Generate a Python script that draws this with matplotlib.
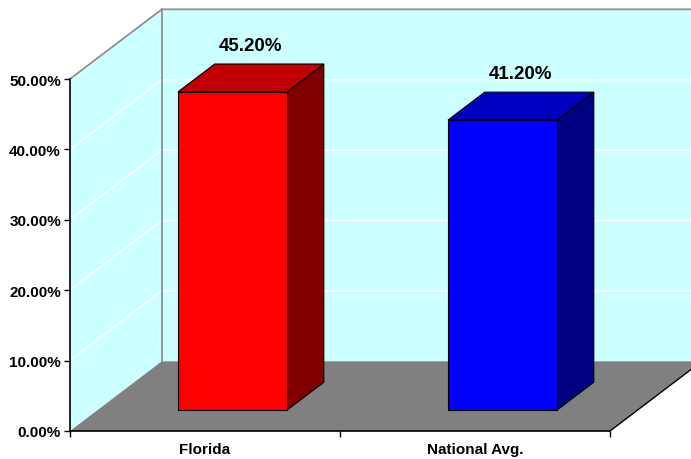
import matplotlib.pyplot as plt
from matplotlib.patches import Polygon

# datos del grafico
categorias = ["Florida", "National Avg."]
valores = [45.2, 41.2]
etiquetas = ["45.20%", "41.20%"]
ticks_y = [0, 10, 20, 30, 40, 50]
colores_frente = ["#FF0000", "#0000FF"]
colores_techo = ["#C00000", "#0000C0"]
colores_lado = ["#800000", "#000080"]

# desplazamiento de profundidad (en unidades de datos)
DX = 0.34
DY = 9.9
ANCHO = 0.404
D0, D1 = 0.3, 0.7

plt.rcParams["font.family"] = ["Liberation Sans", "DejaVu Sans"]

fig = plt.figure(figsize=(6.91, 4.6), dpi=100)
ax = fig.add_axes([70 / 691, 28 / 460, 540 / 691, 352 / 460])
ax.set_xlim(-0.5, 1.5)
ax.set_ylim(0, 50)
ax.patch.set_visible(False)


def p(x, y, d):
    # punto con profundidad d (0 = frente, 1 = fondo)
    return (x + d * DX, y + d * DY)


def poly(pts, color, edge="none", lw=0, z=1):
    ax.add_patch(Polygon(pts, closed=True, facecolor=color, edgecolor=edge,
                         linewidth=lw, clip_on=False, zorder=z))


x0, x1 = -0.5, 1.5
ymax = ticks_y[-1]
cyan = "#CCFFFF"
# pared lateral y pared del fondo
poly([p(x0, 0, 0), p(x0, ymax, 0), p(x0, ymax, 1), p(x0, 0, 1)], cyan)
poly([p(x0, 0, 1), p(x1, 0, 1), p(x1, ymax, 1), p(x0, ymax, 1)], cyan)
# piso
poly([p(x0, 0, 0), p(x1, 0, 0), p(x1, 0, 1), p(x0, 0, 1)], "#808080")

# lineas de grilla blancas
for v in ticks_y[1:-1]:
    xs, ys = zip(p(x0, v, 0), p(x0, v, 1), p(x1, v, 1))
    ax.plot(xs, ys, color="white", lw=1, clip_on=False, zorder=1.2)

# bordes grises de las paredes
xs, ys = zip(p(x0, ymax, 0), p(x0, ymax, 1), p(x1, ymax, 1))
ax.plot(xs, ys, color="#909090", lw=1.3, clip_on=False, zorder=1.3)
xs, ys = zip(p(x0, 0, 1), p(x0, ymax, 1))
ax.plot(xs, ys, color="#909090", lw=1.3, clip_on=False, zorder=1.3)
# borde derecho del piso
xs, ys = zip(p(x1, 0, 0), p(x1, 0, 1))
ax.plot(xs, ys, color="black", lw=1, clip_on=False, zorder=1.3)

# barras
for i, v in enumerate(valores):
    a = i - ANCHO / 2
    b = i + ANCHO / 2
    poly([p(b, 0, D0), p(b, 0, D1), p(b, v, D1), p(b, v, D0)], colores_lado[i], "black", 0.8, 3)
    poly([p(a, v, D0), p(b, v, D0), p(b, v, D1), p(a, v, D1)], colores_techo[i], "black", 0.8, 3)
    poly([p(a, 0, D0), p(b, 0, D0), p(b, v, D0), p(a, v, D0)], colores_frente[i], "black", 0.8, 3)
    # etiqueta sobre el centro del techo
    tx, ty = p(i, v + 4.0, 0.5)
    ax.text(tx, ty, etiquetas[i], ha="center", va="baseline", fontsize=13.5,
            fontweight="bold", zorder=4)

# ejes
for s in ["top", "right"]:
    ax.spines[s].set_visible(False)
ax.spines["left"].set_linewidth(1.2)
ax.spines["bottom"].set_linewidth(1.2)
ax.spines["bottom"].set_zorder(1.4)
ax.set_yticks(ticks_y)
ax.set_yticklabels([f"{t:.2f}%" for t in ticks_y], fontsize=11, fontweight="bold")
ax.set_xticks([-0.5, 0.5, 1.5])
ax.set_xticklabels([])
ax.set_xticks([0, 1], minor=True)
ax.set_xticklabels(categorias, minor=True, fontsize=11, fontweight="bold")
ax.tick_params(axis="both", which="major", direction="out", length=4.5, width=1, pad=2)
ax.tick_params(axis="x", which="minor", length=0, pad=8)

fig.savefig("out.png", dpi=100)
